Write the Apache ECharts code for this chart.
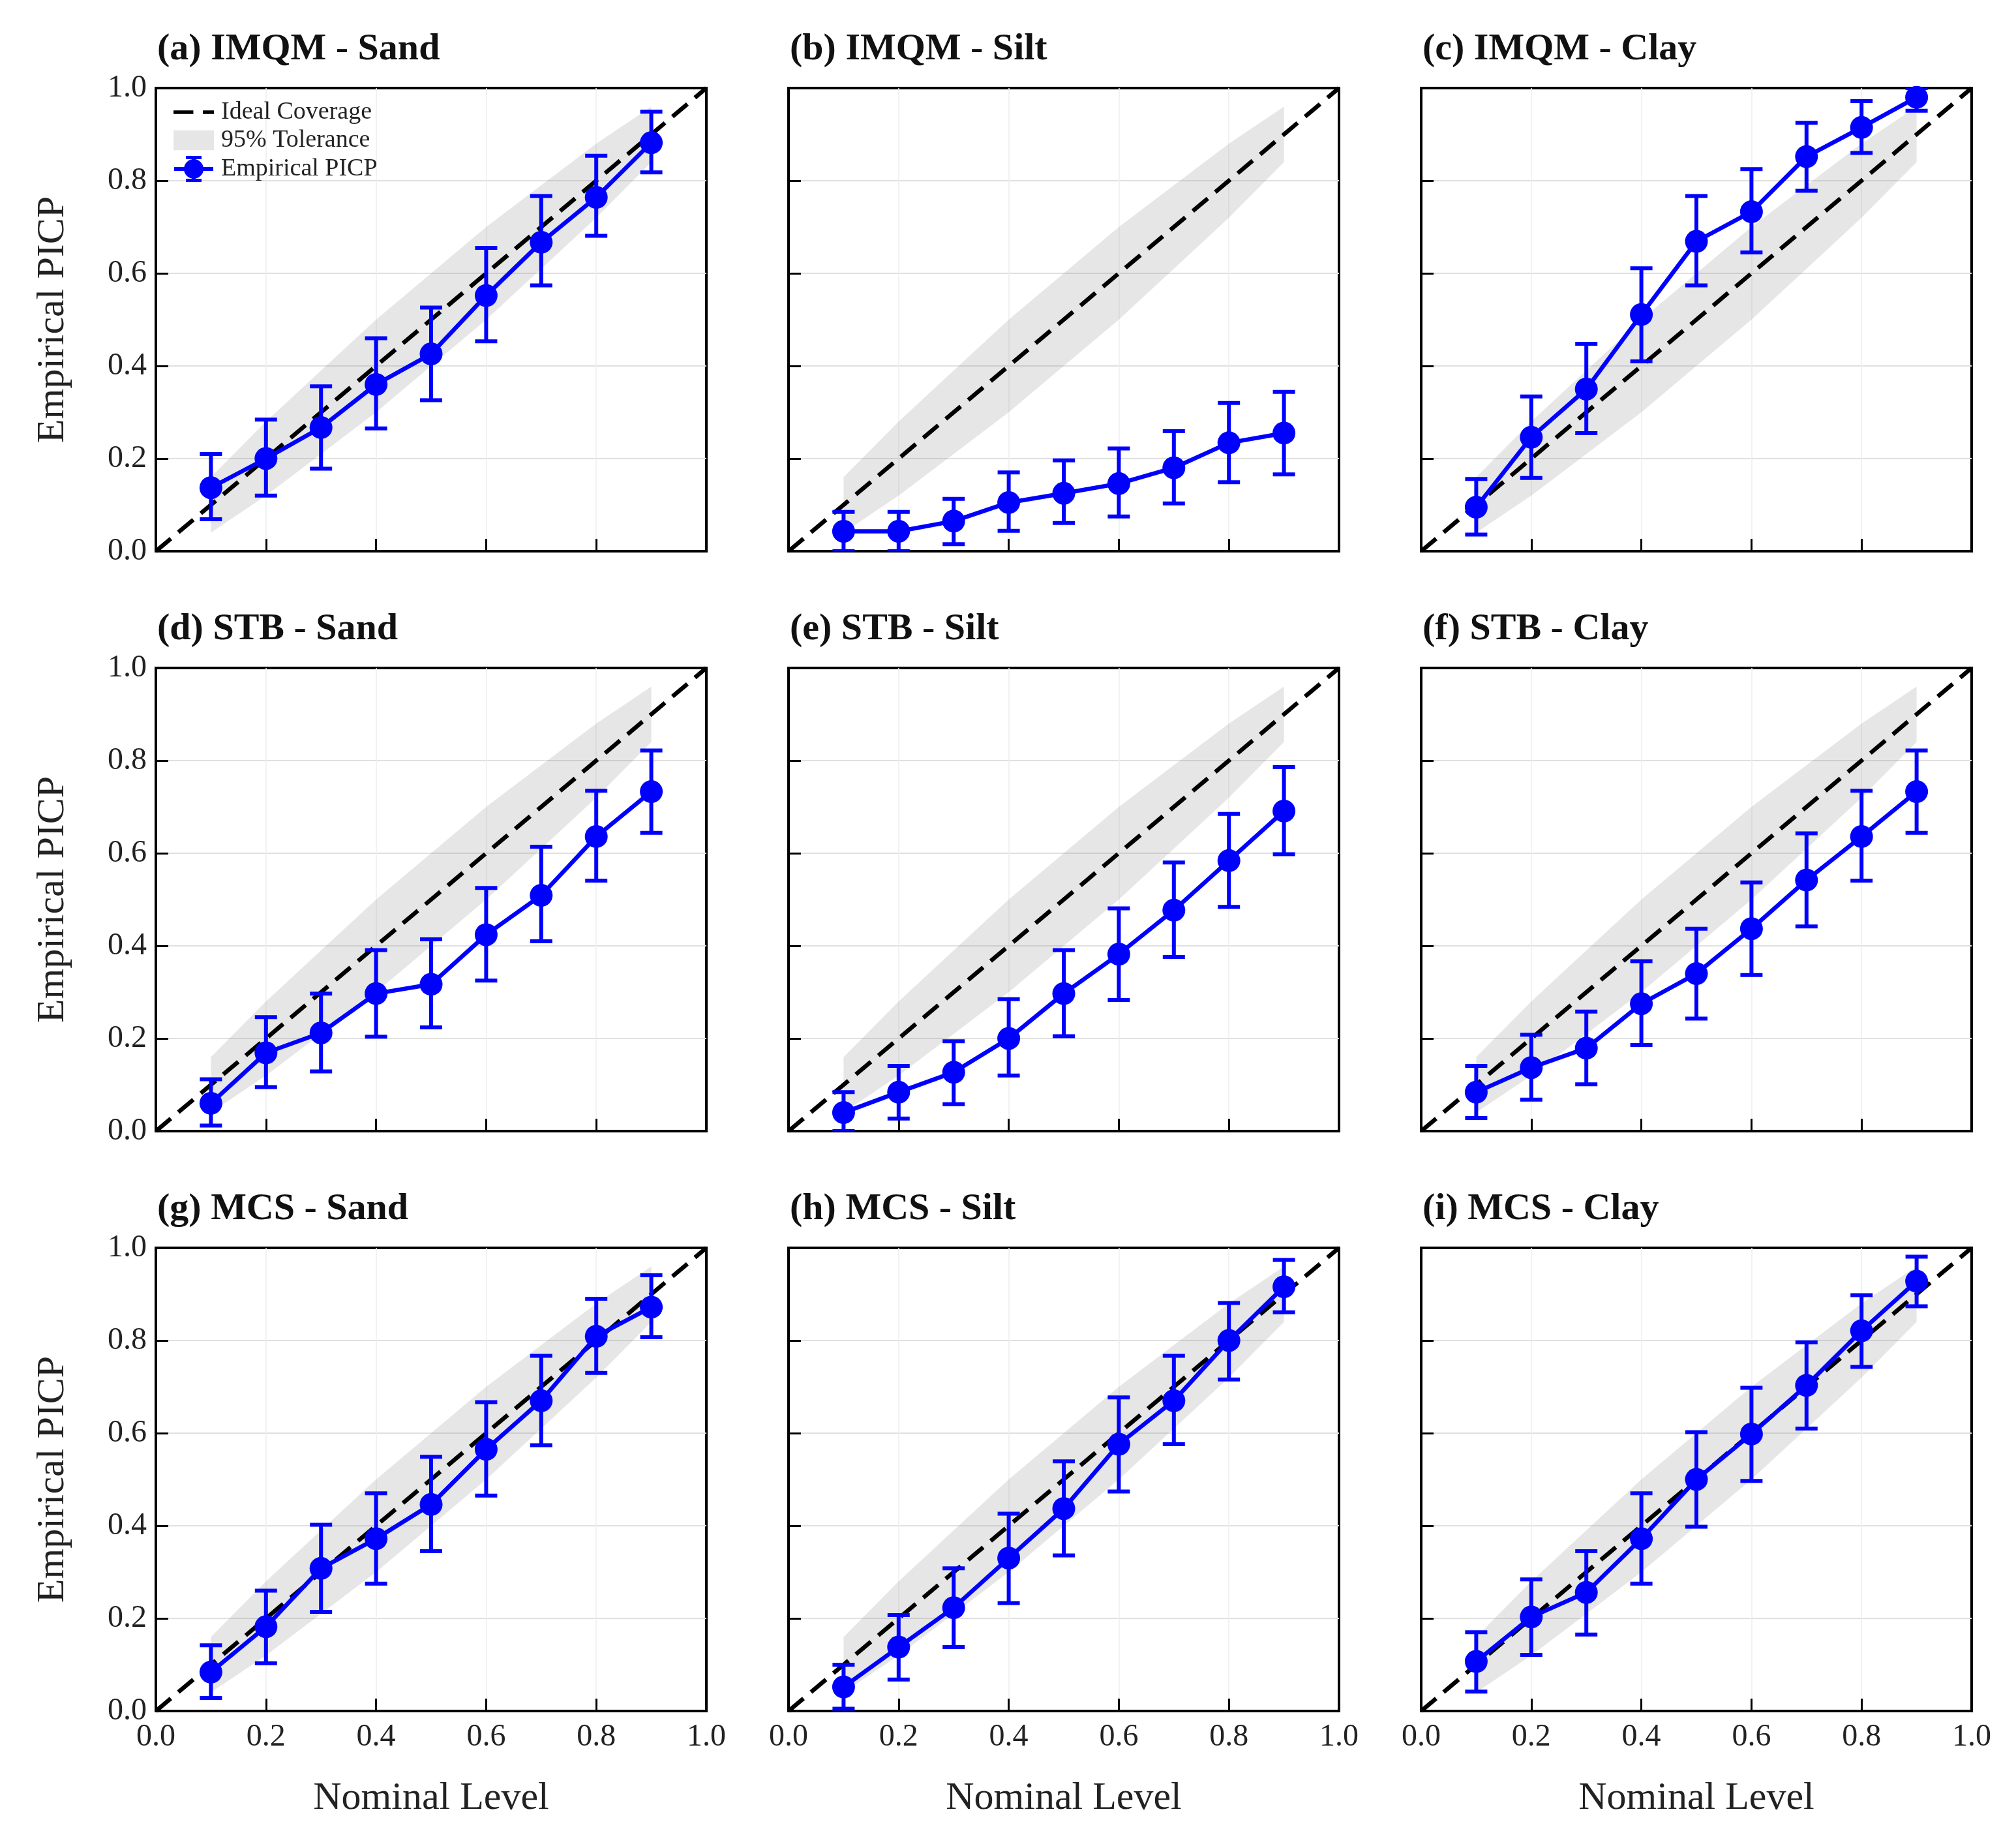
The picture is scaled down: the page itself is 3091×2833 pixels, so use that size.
<!DOCTYPE html>
<html>
<head>
<meta charset="utf-8">
<title>PICP calibration</title>
<script src="https://cdn.jsdelivr.net/npm/echarts@6/dist/echarts.min.js"></script>
<style>
    html, body { margin: 0; padding: 0; background: #ffffff; }
    #chart { width: 3091px; height: 2833px; }
</style>
</head>
<body>
<div id="chart"></div>
<script>
// ============================================
// 数据
// ============================================
const nominal = [0.1, 0.2, 0.3, 0.4, 0.5, 0.6, 0.7, 0.8, 0.9];

// 95% 容差带
const bandLower = [0.04, 0.12, 0.21, 0.30, 0.40, 0.50, 0.61, 0.72, 0.84];
const bandUpper = [0.16, 0.28, 0.39, 0.50, 0.60, 0.70, 0.79, 0.88, 0.96];

// IMQM
const imqmSand   = [0.137, 0.200, 0.267, 0.360, 0.426, 0.552, 0.667, 0.764, 0.882];
const imqmSandLo = [0.069, 0.120, 0.178, 0.265, 0.326, 0.453, 0.574, 0.681, 0.818];
const imqmSandHi = [0.210, 0.284, 0.356, 0.460, 0.526, 0.655, 0.767, 0.854, 0.949];

const imqmSilt   = [0.043, 0.043, 0.065, 0.105, 0.125, 0.146, 0.180, 0.234, 0.255];
const imqmSiltLo = [0.000, 0.000, 0.015, 0.044, 0.061, 0.075, 0.103, 0.149, 0.166];
const imqmSiltHi = [0.085, 0.085, 0.113, 0.170, 0.196, 0.222, 0.259, 0.320, 0.344];

const imqmClay   = [0.095, 0.246, 0.350, 0.511, 0.669, 0.733, 0.852, 0.915, 0.980];
const imqmClayLo = [0.036, 0.158, 0.255, 0.410, 0.574, 0.645, 0.778, 0.860, 0.951];
const imqmClayHi = [0.156, 0.334, 0.448, 0.611, 0.767, 0.825, 0.925, 0.972, 1.000];

// STB
const stbSand   = [0.060, 0.169, 0.212, 0.297, 0.317, 0.424, 0.509, 0.636, 0.733];
const stbSandLo = [0.012, 0.095, 0.129, 0.204, 0.224, 0.325, 0.410, 0.541, 0.644];
const stbSandHi = [0.112, 0.246, 0.297, 0.391, 0.414, 0.525, 0.614, 0.735, 0.822];

const stbSilt   = [0.040, 0.084, 0.127, 0.200, 0.297, 0.382, 0.477, 0.584, 0.691];
const stbSiltLo = [0.000, 0.027, 0.058, 0.120, 0.205, 0.283, 0.376, 0.484, 0.598];
const stbSiltHi = [0.084, 0.141, 0.194, 0.285, 0.391, 0.481, 0.580, 0.685, 0.786];

const stbClay   = [0.084, 0.137, 0.179, 0.275, 0.340, 0.437, 0.542, 0.636, 0.733];
const stbClayLo = [0.028, 0.068, 0.101, 0.186, 0.243, 0.337, 0.442, 0.541, 0.644];
const stbClayHi = [0.141, 0.208, 0.258, 0.367, 0.437, 0.537, 0.643, 0.735, 0.822];

// MCS
const mcsSand   = [0.084, 0.182, 0.308, 0.372, 0.446, 0.565, 0.670, 0.809, 0.872];
const mcsSandLo = [0.028, 0.103, 0.214, 0.275, 0.345, 0.465, 0.574, 0.730, 0.807];
const mcsSandHi = [0.142, 0.260, 0.402, 0.470, 0.549, 0.667, 0.767, 0.890, 0.941];

const mcsSilt   = [0.052, 0.138, 0.223, 0.330, 0.437, 0.576, 0.670, 0.800, 0.916];
const mcsSiltLo = [0.005, 0.068, 0.138, 0.233, 0.336, 0.474, 0.576, 0.716, 0.861];
const mcsSiltHi = [0.100, 0.207, 0.308, 0.426, 0.539, 0.677, 0.767, 0.881, 0.974];

const mcsClay   = [0.107, 0.203, 0.256, 0.372, 0.500, 0.598, 0.703, 0.821, 0.928];
const mcsClayLo = [0.042, 0.121, 0.165, 0.275, 0.398, 0.497, 0.610, 0.743, 0.874];
const mcsClayHi = [0.170, 0.284, 0.345, 0.470, 0.602, 0.698, 0.796, 0.898, 0.981];

const idealLine = [0, 1];

const panelTitles = [
    '(a) IMQM - Sand', '(b) IMQM - Silt', '(c) IMQM - Clay',
    '(d) STB - Sand',  '(e) STB - Silt',  '(f) STB - Clay',
    '(g) MCS - Sand',  '(h) MCS - Silt',  '(i) MCS - Clay'
];

const panels = [
    [imqmSand, imqmSandLo, imqmSandHi],
    [imqmSilt, imqmSiltLo, imqmSiltHi],
    [imqmClay, imqmClayLo, imqmClayHi],
    [stbSand, stbSandLo, stbSandHi],
    [stbSilt, stbSiltLo, stbSiltHi],
    [stbClay, stbClayLo, stbClayHi],
    [mcsSand, mcsSandLo, mcsSandHi],
    [mcsSilt, mcsSiltLo, mcsSiltHi],
    [mcsClay, mcsClayLo, mcsClayHi]
];

// ============================================
// 布局 / 样式
// ============================================
const FONT = 'Liberation Serif';
const BLUE = '#0000ff';
const colLeft = [239, 1209, 2179];
const rowTop = [135, 1024, 1913];
const PW = 844;
const PH = 710;

function renderBand(params, api) {
    if (params.dataIndex !== 0) return null;
    const pts = [];
    for (let k = 0; k < nominal.length; k++) {
        pts.push(api.coord([nominal[k], bandUpper[k]]));
    }
    for (let k = nominal.length - 1; k >= 0; k--) {
        pts.push(api.coord([nominal[k], bandLower[k]]));
    }
    return {
        type: 'polygon',
        shape: { points: pts },
        style: { fill: 'rgba(128,128,128,0.2)', stroke: null }
    };
}

function renderErrorBar(params, api) {
    const x = api.value(0);
    const top = api.coord([x, api.value(2)]);
    const bot = api.coord([x, api.value(1)]);
    const hw = 17;
    const style = { stroke: BLUE, lineWidth: 6, fill: null };
    return {
        type: 'group',
        children: [
            { type: 'line', shape: { x1: top[0], y1: top[1], x2: bot[0], y2: bot[1] }, style },
            { type: 'line', shape: { x1: top[0] - hw, y1: top[1], x2: top[0] + hw, y2: top[1] }, style },
            { type: 'line', shape: { x1: bot[0] - hw, y1: bot[1], x2: bot[0] + hw, y2: bot[1] }, style }
        ]
    };
}

const grids = [];
const xAxes = [];
const yAxes = [];
const titles = [];
const series = [];

panels.forEach((p, i) => {
    const row = Math.floor(i / 3);
    const col = i % 3;
    const [picp, lo, hi] = p;

    grids.push({
        left: colLeft[col], top: rowTop[row], width: PW, height: PH,
        show: true, borderColor: '#000', borderWidth: 4, backgroundColor: 'transparent'
    });

    titles.push({
        text: panelTitles[i],
        left: colLeft[col] + 2,
        top: rowTop[row] - 88,
        padding: 0,
        textStyle: { fontFamily: FONT, fontSize: 58, fontWeight: 'bold', color: '#111' }
    });

    xAxes.push({
        type: 'value', gridIndex: i, min: 0, max: 1, interval: 0.2,
        name: row === 2 ? 'Nominal Level' : '',
        nameLocation: 'middle', nameGap: 104,
        nameTextStyle: { fontFamily: FONT, fontSize: 60, color: '#222' },
        axisLine: { show: true, onZero: false, lineStyle: { color: '#000', width: 4 } },
        axisTick: { show: true, inside: true, length: 19, lineStyle: { color: '#000', width: 3 } },
        axisLabel: {
            show: row === 2, margin: 16, fontFamily: FONT, fontSize: 48, color: '#222',
            showMinLabel: true, showMaxLabel: true,
            formatter: v => v.toFixed(1)
        },
        splitLine: {
            show: true, showMinLine: false, showMaxLine: false,
            lineStyle: { color: '#eeeeee', width: 1.5 }
        }
    });

    yAxes.push({
        type: 'value', gridIndex: i, min: 0, max: 1, interval: 0.2,
        name: col === 0 ? 'Empirical PICP' : '',
        nameLocation: 'middle', nameGap: 128,
        nameTextStyle: { fontFamily: FONT, fontSize: 60, color: '#222' },
        axisLine: { show: true, onZero: false, lineStyle: { color: '#000', width: 4 } },
        axisTick: { show: true, inside: true, length: 19, lineStyle: { color: '#000', width: 3 } },
        axisLabel: {
            show: col === 0, margin: 14, fontFamily: FONT, fontSize: 48, color: '#222',
            showMinLabel: true, showMaxLabel: true,
            formatter: v => v.toFixed(1)
        },
        splitLine: {
            show: true, showMinLine: false, showMaxLine: false,
            lineStyle: { color: '#e0e0e0', width: 2 }
        }
    });

    // 容差带
    series.push({
        type: 'custom', name: '95% Tolerance', xAxisIndex: i, yAxisIndex: i,
        renderItem: renderBand, silent: true, z: 1,
        encode: { x: 0, y: [1, 2] },
        data: nominal.map((x, k) => [x, bandLower[k], bandUpper[k]])
    });

    // 理想覆盖线
    series.push({
        type: 'line', name: 'Ideal Coverage', xAxisIndex: i, yAxisIndex: i,
        data: idealLine.map(v => [v, v]),
        symbol: 'none', silent: true, z: 3,
        lineStyle: { color: '#000', width: 6.5, type: [30, 15] }
    });

    // 误差棒
    series.push({
        type: 'custom', name: 'Empirical PICP', xAxisIndex: i, yAxisIndex: i,
        renderItem: renderErrorBar, silent: true, z: 4, clip: true,
        encode: { x: 0, y: [1, 2] },
        data: nominal.map((x, k) => [x, lo[k], hi[k]])
    });

    // 经验 PICP
    series.push({
        type: 'line', name: 'Empirical PICP', xAxisIndex: i, yAxisIndex: i,
        data: nominal.map((x, k) => [x, picp[k]]),
        symbol: 'circle', symbolSize: 35, silent: true, z: 5,
        lineStyle: { color: BLUE, width: 6.5 },
        itemStyle: { color: BLUE, borderWidth: 0 }
    });
});

const errIcon = 'path://M0,17H60V23H0Z M27,0H33V40H27Z M18,0H42V5H18Z M18,35H42V40H18Z ' +
    'M45,20A15,15 0 1,1 15,20A15,15 0 1,1 45,20Z';

const chart = echarts.init(document.getElementById('chart'), null, { renderer: 'canvas' });
chart.setOption({
    backgroundColor: '#ffffff',
    animation: false,
    title: titles,
    grid: grids,
    xAxis: xAxes,
    yAxis: yAxes,
    legend: {
        left: 266, top: 153, orient: 'vertical', padding: 0,
        itemWidth: 62, itemHeight: 40, itemGap: 5, selectedMode: false,
        textStyle: { fontFamily: FONT, fontSize: 38, color: '#222', padding: [0, 0, 0, 6] },
        itemStyle: { borderWidth: 0 },
        data: [
            { name: 'Ideal Coverage', icon: 'path://M0,0H27V5H0Z M40,0H55V5H40Z', itemStyle: { color: '#000', borderWidth: 0 } },
            { name: '95% Tolerance', icon: 'path://M0,0H57V28H0Z', itemStyle: { color: '#e6e6e6', borderWidth: 0 } },
            { name: 'Empirical PICP', icon: errIcon, itemStyle: { color: BLUE, borderWidth: 0 } }
        ]
    },
    series: series
});
</script>
</body>
</html>
